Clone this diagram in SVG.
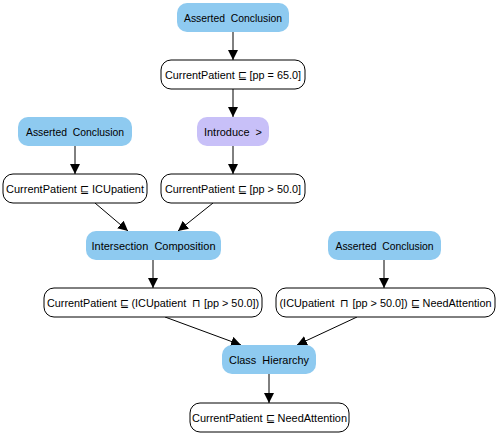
<svg xmlns="http://www.w3.org/2000/svg" width="498" height="436" viewBox="0 0 498 436">
<defs>
<marker id="arr" viewBox="0 0 10 10" refX="10" refY="5" markerWidth="10" markerHeight="10" markerUnits="userSpaceOnUse" orient="auto">
<path d="M0,0 L10,5 L0,10 z" fill="#000"/>
</marker>
<style>
.rule rect{fill:#8ECAF0;stroke:none}
.intro rect{fill:#C8C0F8;stroke:none}
.stmt rect{fill:#fff;stroke:#000;stroke-width:1}
text{font-family:"Liberation Sans",Arial,sans-serif;font-size:11px;fill:#000;text-anchor:middle;dominant-baseline:central;white-space:pre}
.edges line{stroke:#000;stroke-width:1;marker-end:url(#arr)}
</style>
</defs>
<rect width="498" height="436" fill="#fff"/>
<g class="edges">
<line x1="233" y1="32" x2="233" y2="60"/>
<line x1="233" y1="89" x2="233" y2="117"/>
<line x1="75" y1="146" x2="75" y2="174"/>
<line x1="233" y1="146" x2="233" y2="174"/>
<line x1="95" y1="203" x2="128" y2="231"/>
<line x1="213" y1="203" x2="178" y2="231"/>
<line x1="153" y1="260" x2="153" y2="288"/>
<line x1="384" y1="260" x2="384" y2="288"/>
<line x1="165" y1="317" x2="241" y2="345"/>
<line x1="357" y1="317" x2="297" y2="345"/>
<line x1="269" y1="374" x2="269" y2="403"/>
</g>
<g id="n1" class="rule"><rect x="177" y="3" width="112" height="29" rx="10"/><text x="233" y="17.5" textLength="98" lengthAdjust="spacingAndGlyphs">Asserted  Conclusion</text></g>
<g id="n2" class="stmt"><rect x="161" y="60" width="144" height="29" rx="10"/><text x="233" y="74.5" textLength="136" lengthAdjust="spacingAndGlyphs">CurrentPatient ⊑ [pp = 65.0]</text></g>
<g id="n3" class="rule"><rect x="18" y="117" width="114" height="29" rx="10"/><text x="75" y="131.5" textLength="98" lengthAdjust="spacingAndGlyphs">Asserted  Conclusion</text></g>
<g id="n4" class="intro"><rect x="197" y="117" width="72" height="29" rx="10"/><text x="233" y="131.5" textLength="58" lengthAdjust="spacingAndGlyphs">Introduce  &gt;</text></g>
<g id="n5" class="stmt"><rect x="3" y="174" width="144" height="29" rx="10"/><text x="75" y="188.5" textLength="138" lengthAdjust="spacingAndGlyphs">CurrentPatient ⊑ ICUpatient</text></g>
<g id="n6" class="stmt"><rect x="161" y="174" width="144" height="29" rx="10"/><text x="233" y="188.5" textLength="136" lengthAdjust="spacingAndGlyphs">CurrentPatient ⊑ [pp &gt; 50.0]</text></g>
<g id="n7" class="rule"><rect x="86" y="231" width="135" height="29" rx="10"/><text x="153.5" y="245.5" textLength="124" lengthAdjust="spacingAndGlyphs">Intersection  Composition</text></g>
<g id="n8" class="rule"><rect x="328" y="231" width="113" height="29" rx="10"/><text x="384.5" y="245.5" textLength="98" lengthAdjust="spacingAndGlyphs">Asserted  Conclusion</text></g>
<g id="n9" class="stmt"><rect x="44" y="288" width="218" height="29" rx="10"/><text x="153" y="302.5" textLength="212" lengthAdjust="spacingAndGlyphs">CurrentPatient ⊑ (ICUpatient  ⊓ [pp &gt; 50.0])</text></g>
<g id="n10" class="stmt"><rect x="276" y="288" width="219" height="29" rx="10"/><text x="385.5" y="302.5" textLength="212" lengthAdjust="spacingAndGlyphs">(ICUpatient  ⊓ [pp &gt; 50.0]) ⊑ NeedAttention</text></g>
<g id="n11" class="rule"><rect x="222" y="345" width="94" height="29" rx="10"/><text x="269" y="359.5" textLength="80" lengthAdjust="spacingAndGlyphs">Class  Hierarchy</text></g>
<g id="n12" class="stmt"><rect x="190" y="403" width="159" height="29" rx="10"/><text x="269.5" y="417.5" textLength="155" lengthAdjust="spacingAndGlyphs">CurrentPatient ⊑ NeedAttention</text></g>
</svg>
